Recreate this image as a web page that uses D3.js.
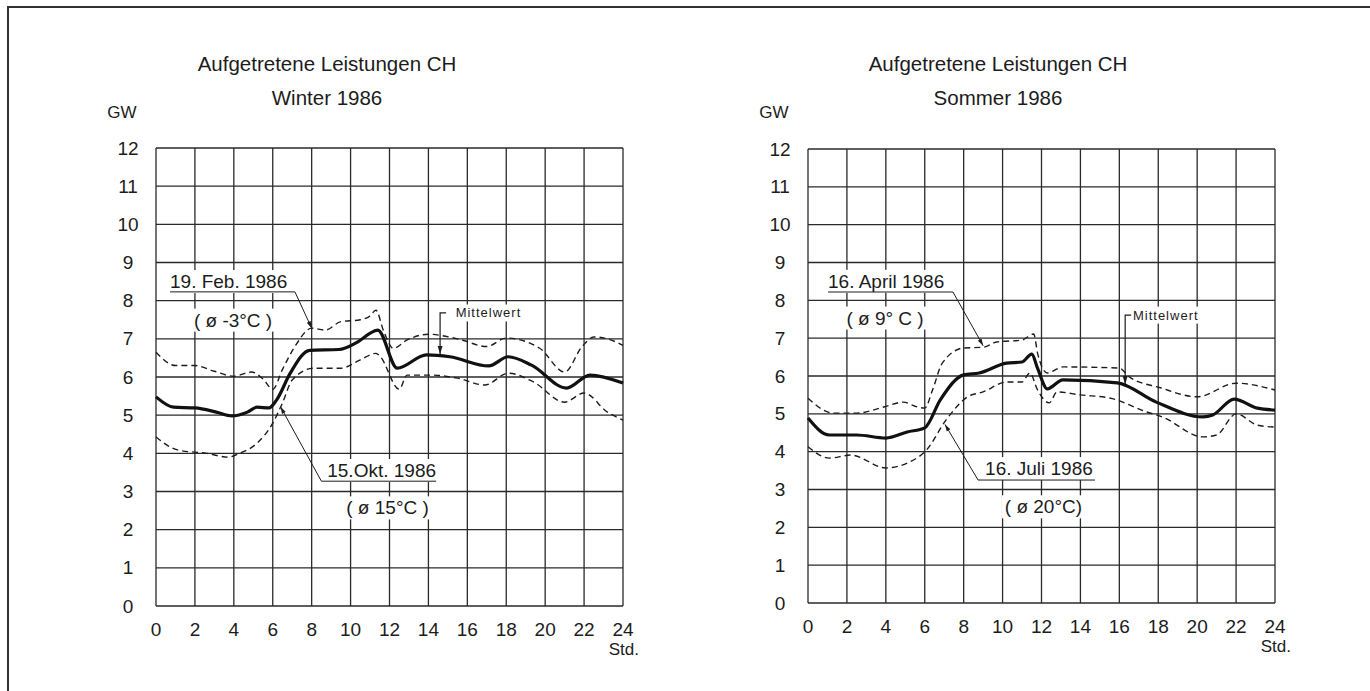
<!DOCTYPE html>
<html>
<head>
<meta charset="utf-8">
<script src="https://cdn.jsdelivr.net/npm/d3@7"></script>
<style>
body { margin: 0; background: #fff; }
text { font-family: "Liberation Sans", Arial, sans-serif; fill: #1c1c1c; }
</style>
</head>
<body>
<div id="chart"></div>
<script>
// Width and height
var chart_width  = 1370;
var chart_height = 691;

// axis ticks
var hourTicks = [0, 2, 4, 6, 8, 10, 12, 14, 16, 18, 20, 22, 24];
var gwTicks   = [0, 1, 2, 3, 4, 5, 6, 7, 8, 9, 10, 11, 12];

// winter 1986 - [hour, GW]
var winterFeb = [[0,6.65],[1,6.3],[2,6.3],[3,6.15],[4,6.02],[4.9,6.13],[5.5,5.95],[6,5.68],[6.5,6.2],[7.2,6.85],[8,7.28],[8.7,7.23],[9.5,7.45],[10.5,7.5],[11,7.6],[11.3,7.75],[11.7,7.2],[12.2,6.75],[12.9,6.97],[14,7.12],[15.5,7.0],[17,6.8],[18,7.02],[19.7,6.76],[21,6.13],[21.9,6.8],[22.5,7.05],[23.2,7.0],[24,6.83]];
var winterMean = [[0,5.48],[0.9,5.21],[2,5.19],[3.1,5.08],[3.9,4.98],[4.7,5.08],[5.2,5.21],[5.8,5.19],[6.2,5.4],[6.9,6.1],[7.9,6.7],[9.4,6.72],[10.3,6.9],[11.2,7.2],[11.4,7.23],[12.4,6.23],[13.9,6.58],[15.1,6.53],[17.1,6.29],[18.1,6.53],[19.3,6.31],[21.1,5.71],[22.3,6.05],[24,5.84]];
var winterOkt = [[0,4.43],[1.1,4.09],[2.6,4.0],[3.7,3.9],[4.3,4.0],[5.2,4.27],[6,4.79],[6.5,5.32],[7,5.92],[8.1,6.23],[9.5,6.23],[10.5,6.45],[11.3,6.62],[11.5,6.55],[12.5,5.68],[12.9,6.05],[14.1,6.05],[15.5,5.97],[16.9,5.79],[18.1,6.1],[19.4,5.87],[21,5.34],[22,5.58],[23.2,5.08],[24,4.87]];

// sommer 1986 - [hour, GW]
var summerApril = [[0,5.41],[1.3,5.02],[2.5,5.02],[3.9,5.18],[4.9,5.31],[5.5,5.2],[6,5.15],[6.4,5.63],[6.9,6.34],[8,6.74],[9,6.76],[9.7,6.9],[11,6.95],[11.6,7.11],[11.8,6.6],[12.3,6.08],[13.1,6.24],[16,6.21],[16.5,5.98],[18.1,5.69],[20,5.45],[22,5.81],[24,5.63]];
var summerMean = [[0,4.89],[1.1,4.44],[2.5,4.44],[4,4.36],[5.1,4.52],[6,4.63],[6.8,5.37],[8,6.03],[8.8,6.08],[10.2,6.34],[11,6.37],[11.5,6.58],[11.8,6.2],[12.3,5.66],[13.1,5.9],[15.9,5.82],[17.9,5.31],[20.3,4.92],[20.8,4.97],[21.9,5.39],[23.1,5.15],[24,5.1]];
var summerJuli = [[0,4.13],[1.1,3.83],[2.2,3.91],[4,3.57],[5.1,3.7],[6.1,4.05],[7.1,4.84],[8.2,5.45],[9,5.58],[10.2,5.84],[11,5.84],[11.4,6.08],[11.8,5.63],[12.4,5.29],[12.8,5.58],[14,5.5],[15.5,5.42],[17.4,5.05],[18.2,4.92],[20.3,4.39],[21,4.44],[22,5.0],[23.1,4.7],[24,4.65]];

// labels
var titleLine  = "Aufgetretene Leistungen CH";
var seasons    = ["Winter 1986", "Sommer 1986"];
var upperDates = ["19. Feb. 1986", "16. April 1986"];
var upperTemps = ["( ø -3°C )", "( ø 9° C )"];
var lowerDates = ["15.Okt. 1986", "16. Juli 1986"];
var lowerTemps = ["( ø 15°C )", "( ø 20°C)"];

var svg = d3.select("#chart")
    .append("svg")
    .attr("width", chart_width)
    .attr("height", chart_height);

// arrow marker for leader lines
svg.append("defs").append("marker")
    .attr("id", "arrow")
    .attr("viewBox", "0 0 10 10")
    .attr("refX", 10).attr("refY", 5)
    .attr("markerWidth", 7).attr("markerHeight", 7)
    .attr("orient", "auto")
    .append("path")
    .attr("d", "M0,2 L10,5 L0,8 z")
    .attr("fill", "#1c1c1c");

// page frame
svg.append("path")
    .attr("d", "M8," + chart_height + " V7 H" + chart_width)
    .attr("fill", "none")
    .attr("stroke", "#333")
    .attr("stroke-width", 2);

var panels = [
  {left: 156, right: 623, top: 148, bottom: 606, cx: 327, season: 0,
   upper: winterFeb, mean: winterMean, lower: winterOkt,
   upLbl: [0.72, 8.33], upLine: [7.14, 8.23], upEnd: [8.0, 7.28], upTemp: [3.96, 7.49],
   mw: [15.4, 7.68], mwX: 14.6, mwEnd: 6.6,
   loLbl: [8.8, 3.38], loLine: [14.4, 8.5, 3.27], loEnd: [6.4, 5.22], loTemp: [11.9, 2.57]},
  {left: 808, right: 1275, top: 149, bottom: 603, cx: 998, season: 1,
   upper: summerApril, mean: summerMean, lower: summerJuli,
   upLbl: [1.03, 8.33], upLine: [7.45, 8.22], upEnd: [9.0, 6.8], upTemp: [3.96, 7.53],
   mw: [16.7, 7.61], mwX: 16.3, mwEnd: 5.78,
   loLbl: [9.1, 3.38], loLine: [14.75, 8.74, 3.25], loEnd: [7.04, 4.72], loTemp: [12.1, 2.54]}
];

panels.forEach(function(p, i){
  draw_panel(p, i);
});

function draw_panel(p, i){
  var x = d3.scaleLinear().domain([0, 24]).range([p.left, p.right]);
  var y = d3.scaleLinear().domain([0, 12]).range([p.bottom, p.top]);
  var g = svg.append("g");

  // titles
  g.append("text").attr("x", p.cx).attr("y", 63)
    .attr("text-anchor", "middle").attr("dominant-baseline", "central")
    .style("font-size", "20.5px").text(titleLine);
  g.append("text").attr("x", p.cx).attr("y", 97)
    .attr("text-anchor", "middle").attr("dominant-baseline", "central")
    .style("font-size", "20.5px").text(seasons[p.season]);
  g.append("text").attr("x", p.left - 34).attr("y", 112)
    .attr("text-anchor", "middle").attr("dominant-baseline", "central")
    .style("font-size", "17px").text("GW");

  // grid
  g.selectAll(".vgrid").data(hourTicks).enter().append("line")
    .attr("x1", function(d){ return x(d); }).attr("x2", function(d){ return x(d); })
    .attr("y1", y(0)).attr("y2", y(12))
    .attr("stroke", "#2a2a2a").attr("stroke-width", 1.3);
  g.selectAll(".hgrid").data(gwTicks).enter().append("line")
    .attr("y1", function(d){ return y(d); }).attr("y2", function(d){ return y(d); })
    .attr("x1", x(0)).attr("x2", x(24))
    .attr("stroke", "#2a2a2a").attr("stroke-width", 1.3);

  // tick labels
  g.selectAll(".ylab").data(gwTicks).enter().append("text")
    .attr("x", p.left - 28)
    .attr("y", function(d){ return y(d); })
    .attr("text-anchor", "middle").attr("dominant-baseline", "central")
    .style("font-size", "19px")
    .text(function(d){ return d; });
  g.selectAll(".xlab").data(hourTicks).enter().append("text")
    .attr("x", function(d){ return x(d); })
    .attr("y", p.bottom + 23)
    .attr("text-anchor", "middle").attr("dominant-baseline", "central")
    .style("font-size", "19px")
    .text(function(d){ return d; });
  g.append("text").attr("x", x(24) + 16).attr("y", p.bottom + 43)
    .attr("text-anchor", "end").attr("dominant-baseline", "central")
    .style("font-size", "17px").text("Std.");

  // annotation labels with white background over the grid
  function label(txt, hx, gv, anchor, size, spacing){
    var t = g.append("text")
      .attr("x", x(hx)).attr("y", y(gv))
      .attr("text-anchor", anchor)
      .style("font-size", size + "px")
      .style("letter-spacing", (spacing || 0) + "px")
      .text(txt);
    var b = t.node().getBBox();
    g.insert("rect", function(){ return t.node(); })
      .attr("x", b.x - 3).attr("y", b.y - 1)
      .attr("width", b.width + 6).attr("height", b.height + 2)
      .attr("fill", "#fff");
    return t;
  }

  label(upperDates[i], p.upLbl[0], p.upLbl[1], "start", 19);
  label(upperTemps[i], p.upTemp[0], p.upTemp[1] - 0.17, "middle", 19);
  label(lowerDates[i], p.loLbl[0], p.loLbl[1], "start", 19);
  label(lowerTemps[i], p.loTemp[0], p.loTemp[1] - 0.17, "middle", 19);
  label("Mittelwert", p.mw[0], p.mw[1] - 0.12, "start", 13, 1);

  // leader lines
  g.append("path")
    .attr("d", "M" + x(p.upLbl[0]) + "," + y(p.upLine[1]) + " H" + x(p.upLine[0]) +
               " L" + x(p.upEnd[0]) + "," + y(p.upEnd[1]))
    .attr("fill", "none").attr("stroke", "#1c1c1c").attr("stroke-width", 1)
    .attr("marker-end", "url(#arrow)");
  g.append("path")
    .attr("d", "M" + x(p.loLine[0]) + "," + y(p.loLine[2]) + " H" + x(p.loLine[1]) +
               " L" + x(p.loEnd[0]) + "," + y(p.loEnd[1]))
    .attr("fill", "none").attr("stroke", "#1c1c1c").attr("stroke-width", 1)
    .attr("marker-end", "url(#arrow)");
  g.append("path")
    .attr("d", "M" + (x(p.mwX) + 6) + "," + y(p.mw[1]) + " H" + x(p.mwX) +
               " V" + y(p.mwEnd))
    .attr("fill", "none").attr("stroke", "#1c1c1c").attr("stroke-width", 1.2)
    .attr("marker-end", "url(#arrow)");

  // curves
  var line = d3.line()
    .x(function(d){ return x(d[0]); })
    .y(function(d){ return y(d[1]); })
    .curve(d3.curveMonotoneX);

  g.append("path").datum(p.upper).attr("d", line)
    .attr("fill", "none").attr("stroke", "#1c1c1c")
    .attr("stroke-width", 1.4).attr("stroke-dasharray", "6,4");
  g.append("path").datum(p.lower).attr("d", line)
    .attr("fill", "none").attr("stroke", "#1c1c1c")
    .attr("stroke-width", 1.4).attr("stroke-dasharray", "6,4");
  g.append("path").datum(p.mean).attr("d", line)
    .attr("fill", "none").attr("stroke", "#111")
    .attr("stroke-width", 3.2);
}
</script>
</body>
</html>
